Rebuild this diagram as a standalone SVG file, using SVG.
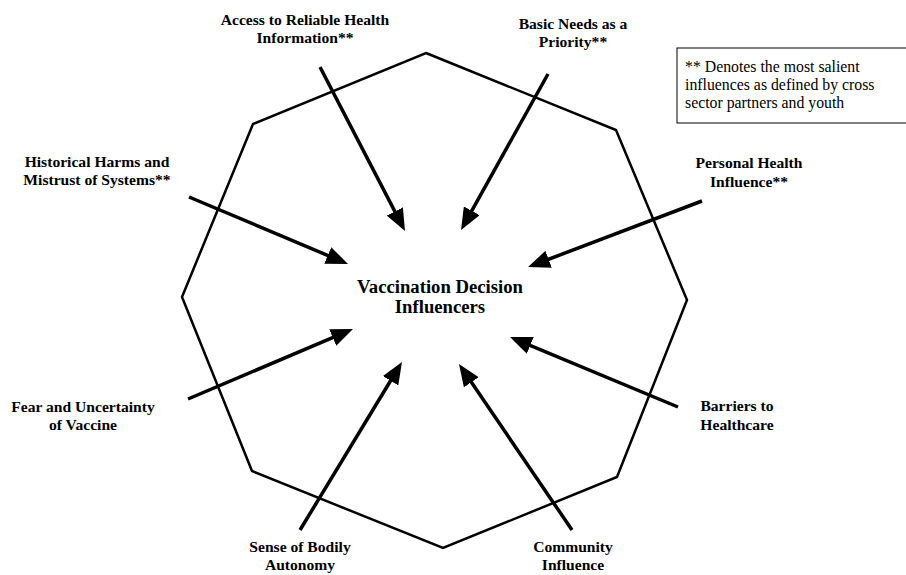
<svg xmlns="http://www.w3.org/2000/svg" width="906" height="575" viewBox="0 0 906 575">
<style>
.lbl{font-family:"Liberation Serif","Times New Roman",serif;font-weight:bold;font-size:15.6px;fill:#000;text-anchor:middle}
.ctr{font-family:"Liberation Serif","Times New Roman",serif;font-weight:bold;font-size:18.7px;fill:#000;text-anchor:middle}
.note{font-family:"Liberation Serif","Times New Roman",serif;font-size:15.8px;fill:#000}
.arr{stroke:#000;stroke-width:3.5;fill:none;marker-end:url(#ah)}
</style>
<defs>
<marker id="ah" markerUnits="userSpaceOnUse" markerWidth="22" markerHeight="18" viewBox="0 0 22 18" refX="12" refY="9" orient="auto">
<path d="M0,0 L22,9 L0,18 z" fill="#000"/>
</marker>
</defs>
<rect width="906" height="575" fill="#fff"/>
<g id="octagon">
<polygon points="426,53 616,130 687,300 617,477 443,548 252,471 182,297 253,124" fill="none" stroke="#000" stroke-width="2.5"/>
</g>
<g id="connectors">
<line class="arr" x1="320" y1="67" x2="400.4" y2="222.1"/>
<line class="arr" x1="548" y1="74" x2="465.9" y2="221.3"/>
<line class="arr" x1="189" y1="197" x2="338.8" y2="260.1"/>
<line class="arr" x1="702" y1="201" x2="537.4" y2="263.5"/>
<line class="arr" x1="188" y1="399" x2="343.8" y2="332.9"/>
<line class="arr" x1="300" y1="530" x2="396.8" y2="370.5"/>
<line class="arr" x1="572" y1="530" x2="464.6" y2="372.3"/>
<line class="arr" x1="678" y1="407" x2="519.2" y2="340.8"/>
</g>
<g id="center"><text class="ctr" x="440" y="293">Vaccination Decision</text><text class="ctr" x="440" y="313">Influencers</text></g>
<g id="access"><text class="lbl" x="305" y="25">Access to Reliable Health</text><text class="lbl" x="305" y="43">Information**</text></g>
<g id="basic"><text class="lbl" x="573" y="29">Basic Needs as a</text><text class="lbl" x="573" y="47">Priority**</text></g>
<g id="historical"><text class="lbl" x="97" y="167">Historical Harms and</text><text class="lbl" x="97" y="185">Mistrust of Systems**</text></g>
<g id="personal"><text class="lbl" x="749" y="168">Personal Health</text><text class="lbl" x="749" y="187">Influence**</text></g>
<g id="fear"><text class="lbl" x="83" y="412">Fear and Uncertainty</text><text class="lbl" x="83" y="430">of Vaccine</text></g>
<g id="barriers"><text class="lbl" x="737" y="411">Barriers to</text><text class="lbl" x="737" y="430">Healthcare</text></g>
<g id="sense"><text class="lbl" x="300" y="552">Sense of Bodily</text><text class="lbl" x="300" y="570">Autonomy</text></g>
<g id="community"><text class="lbl" x="573" y="552">Community</text><text class="lbl" x="573" y="570">Influence</text></g>
<g id="legend">
<rect x="677" y="48" width="240" height="75" fill="#fff" stroke="#000" stroke-width="1"/>
<text class="note" x="685" y="72">** Denotes the most salient</text>
<text class="note" x="685" y="90">influences as defined by cross</text>
<text class="note" x="685" y="108">sector partners and youth</text>
</g>
</svg>
